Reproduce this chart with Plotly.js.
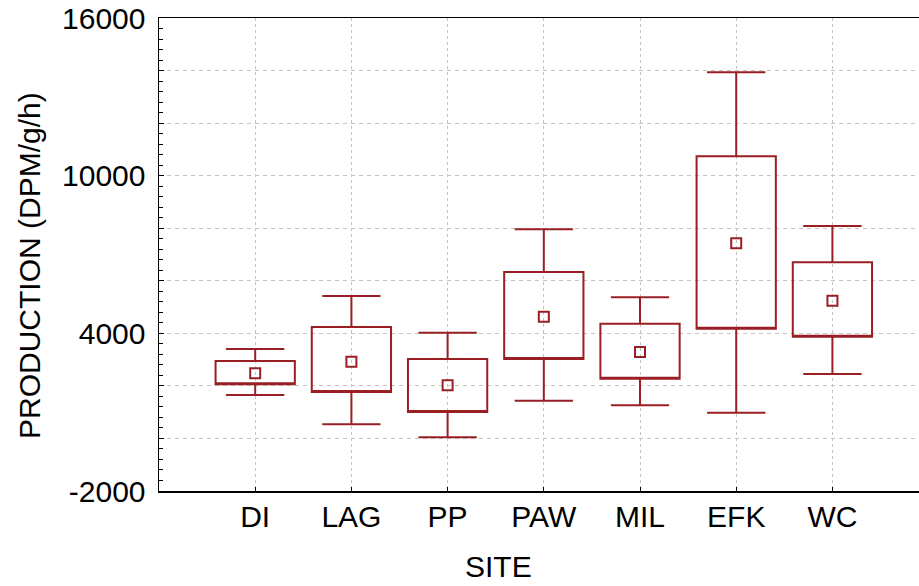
<!DOCTYPE html>
<html>
<head>
<meta charset="utf-8">
<script src="https://cdn.plot.ly/plotly-3.0.1.min.js"></script>
<style>html,body{margin:0;padding:0;background:#fff;}#chart{width:919px;height:586px;}</style>
</head>
<body>
<div id="chart"></div>
<script>
// Data
const sites = ["DI", "LAG", "PP", "PAW", "MIL", "EFK", "WC"];
const meanVals   = [2479, 2921, 2023, 4633, 3290, 7426, 5242];
const boxLow     = [2060, 1768, 1006, 3023, 2274, 4177, 3872];
const boxHigh    = [2947, 4241, 3023, 6334, 4367, 10737, 6703];
const whiskerLow = [1653, 538, 44, 1437, 1262, 980, 2453];
const whiskerHigh= [3404, 5421, 4024, 7959, 5371, 13934, 8085];

const yTickVals  = [-2000, 0, 2000, 4000, 6000, 8000, 10000, 12000, 14000, 16000];
const yTickText  = ["-2000", "", "", "4000", "", "", "10000", "", "", "16000"];

const red = "#9a1f24";
const font = "Liberation Sans, Arial, sans-serif";

const traces = [
  {
    type: "box",
    x: sites,
    q1: boxLow,
    median: boxLow,
    q3: boxHigh,
    lowerfence: whiskerLow,
    upperfence: whiskerHigh,
    boxpoints: false,
    width: 0.824,
    whiskerwidth: 0.735,
    fillcolor: "rgba(255,255,255,0)",
    line: {color: red, width: 2},
    hoverinfo: "skip",
    showlegend: false
  },
  {
    type: "scatter",
    mode: "markers",
    x: sites,
    y: meanVals,
    marker: {symbol: "square-open", size: 10, color: red, line: {color: red, width: 2}},
    showlegend: false,
    cliponaxis: false
  }
];

const layout = {
  width: 919,
  height: 586,
  margin: {l: 159, r: 0, t: 18, b: 95, pad: 0},
  paper_bgcolor: "#ffffff",
  plot_bgcolor: "#ffffff",
  font: {family: font, size: 30, color: "#000"},
  showlegend: false,
  xaxis: {
    type: "category",
    categoryorder: "array",
    categoryarray: sites,
    range: [-1, 6.9],
    showline: true,
    linecolor: "#000",
    linewidth: 1.5,
    mirror: true,
    showgrid: true,
    gridcolor: "#c4c4c4",
    griddash: "dot",
    gridwidth: 1,
    ticks: "inside",
    ticklen: 4,
    tickcolor: "#000",
    tickfont: {family: font, size: 30, color: "#000"},
    zeroline: false,
    ticklabelstandoff: -2
  },
  yaxis: {
    range: [-2000, 16000],
    tickmode: "array",
    tickvals: yTickVals,
    ticktext: yTickText,
    showline: true,
    linecolor: "#000",
    linewidth: 1.5,
    showgrid: true,
    gridcolor: "#c4c4c4",
    griddash: "4px,4px",
    gridwidth: 1,
    ticks: "inside",
    ticklen: 5,
    tickcolor: "#000",
    minor: {dtick: 400, tick0: 0, ticks: "inside", ticklen: 4, tickcolor: "#000", showgrid: false},
    tickfont: {family: font, size: 30, color: "#000"},
    zeroline: false,
    ticklabelstandoff: 6
  },
  annotations: [
    {text: "SITE", xref: "paper", yref: "paper", x: 0.447, y: -0.1586, xanchor: "center", yanchor: "middle",
     showarrow: false, font: {family: font, size: 30, color: "#000"}},
    {text: "PRODUCTION (DPM/g/h)", xref: "paper", yref: "paper", x: -0.1697, y: 0.4757, xanchor: "center", yanchor: "middle",
     textangle: -90, showarrow: false, font: {family: font, size: 30, color: "#000"}}
  ]
};

Plotly.newPlot("chart", traces, layout, {staticPlot: true, displayModeBar: false});
</script>
</body>
</html>
